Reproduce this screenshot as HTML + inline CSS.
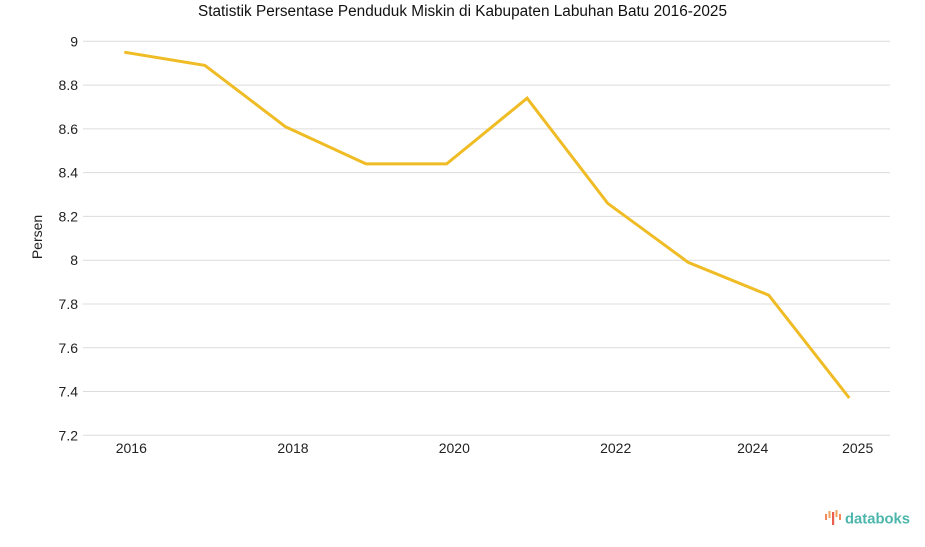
<!DOCTYPE html>
<html><head><meta charset="utf-8"><style>
html,body{margin:0;padding:0;background:#fff;}
svg{display:block;font-family:"Liberation Sans",Arial,sans-serif;}
</style></head><body>
<svg width="925" height="547" viewBox="0 0 925 547" xmlns="http://www.w3.org/2000/svg">
<rect width="925" height="547" fill="#fff"/>
<text x="462.5" y="16" font-size="15.3" text-anchor="middle" fill="#111" textLength="529" lengthAdjust="spacingAndGlyphs">Statistik Persentase Penduduk Miskin di Kabupaten Labuhan Batu 2016-2025</text>
<g stroke="#dcdcdc" stroke-width="1">
<line x1="83" x2="890" y1="41.3" y2="41.3"/>
<line x1="83" x2="890" y1="85.1" y2="85.1"/>
<line x1="83" x2="890" y1="128.9" y2="128.9"/>
<line x1="83" x2="890" y1="172.6" y2="172.6"/>
<line x1="83" x2="890" y1="216.4" y2="216.4"/>
<line x1="83" x2="890" y1="260.2" y2="260.2"/>
<line x1="83" x2="890" y1="304.0" y2="304.0"/>
<line x1="83" x2="890" y1="347.8" y2="347.8"/>
<line x1="83" x2="890" y1="391.5" y2="391.5"/>
<line x1="83" x2="890" y1="435.3" y2="435.3"/>
</g>
<g font-size="14" fill="#222" text-anchor="end">
<text x="78" y="46.3">9</text>
<text x="78" y="90.1">8.8</text>
<text x="78" y="133.9">8.6</text>
<text x="78" y="177.6">8.4</text>
<text x="78" y="221.4">8.2</text>
<text x="78" y="265.2">8</text>
<text x="78" y="309.0">7.8</text>
<text x="78" y="352.8">7.6</text>
<text x="78" y="396.5">7.4</text>
<text x="78" y="440.3">7.2</text>
</g>
<text transform="translate(42,237) rotate(-90)" font-size="14" fill="#222" text-anchor="middle">Persen</text>
<g font-size="14" fill="#222" text-anchor="middle">
<text x="131.3" y="453">2016</text>
<text x="293" y="453">2018</text>
<text x="454.3" y="453">2020</text>
<text x="615.7" y="453">2022</text>
<text x="752.7" y="453">2024</text>
<text x="857.7" y="453">2025</text>
</g>
<polyline fill="none" stroke="#F0BC25" stroke-width="3" stroke-linejoin="miter" points="124.3,52.2 204.9,65.4 285.4,126.7 366,163.9 446.6,163.9 527.1,98.2 607.7,203.3 688.3,262.4 768.8,295.2 849.3,398.0"/>
<g>
<rect x="825" y="514" width="2" height="6" fill="#F08A5D"/>
<rect x="828.5" y="511" width="2" height="7" fill="#F4A259"/>
<rect x="832" y="512" width="2.2" height="13" fill="#E8604C"/>
<rect x="835.5" y="510" width="2" height="7" fill="#F4A259"/>
<rect x="839" y="514" width="2" height="6" fill="#F08A5D"/>
<text x="845" y="523.5" font-size="15" font-weight="bold" fill="#4DB6AC" textLength="65" lengthAdjust="spacingAndGlyphs">databoks</text>
</g>
</svg>
</body></html>
